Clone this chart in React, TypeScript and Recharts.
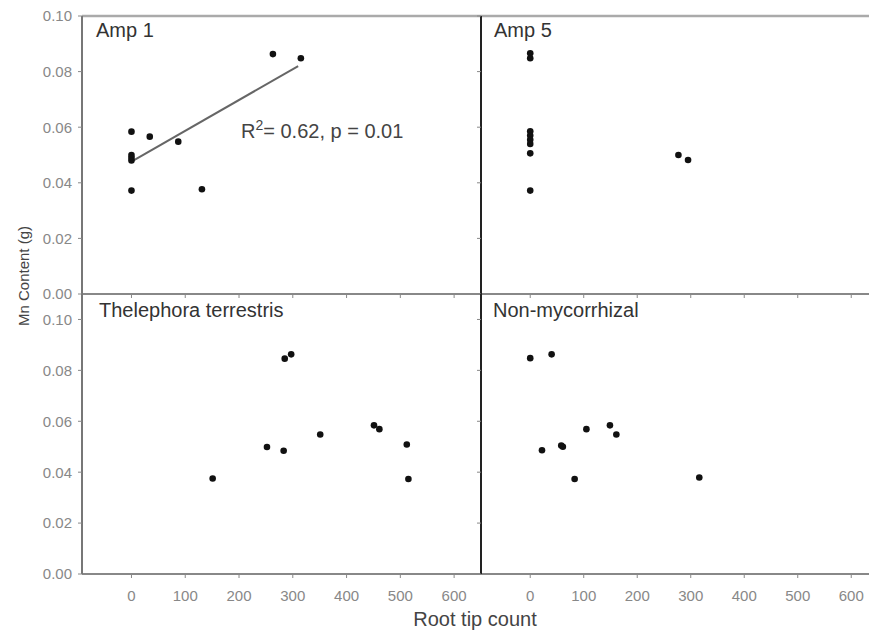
import React from 'react';
import { ScatterChart, Scatter, XAxis, YAxis, ReferenceLine } from 'recharts';

// values (root tip count vs Mn content in g)
const amp1Roots = [0, 34, 0, 0, 0, 87, 0, 131, 263, 315];
const amp1Mn = [0.0584, 0.0566, 0.05, 0.049, 0.048, 0.0548, 0.0372, 0.0377, 0.0863, 0.0848];
const amp1FitRoots = [0, 310];
const amp1FitMn = [0.0476, 0.082];

const amp5Roots = [0, 0, 0, 0, 0, 0, 0, 0, 277, 295];
const amp5Mn = [0.0866, 0.0848, 0.0585, 0.057, 0.0555, 0.054, 0.0506, 0.0372, 0.05, 0.0482];

const theleRoots = [151, 252, 283, 285, 297, 351, 451, 461, 512, 515];
const theleMn = [0.0375, 0.0499, 0.0484, 0.0846, 0.0863, 0.0548, 0.0584, 0.0569, 0.0509, 0.0373];

const nonmycRoots = [0, 40, 22, 58, 61, 83, 105, 149, 161, 316];
const nonmycMn = [0.0848, 0.0863, 0.0486, 0.0505, 0.05, 0.0373, 0.0569, 0.0584, 0.0548, 0.0379];

const xTicks = [0, 100, 200, 300, 400, 500, 600];
const yTicks = [0, 0.02, 0.04, 0.06, 0.08, 0.1];

const toPoints = (xs: number[], ys: number[]) => xs.map((x, i) => ({ x, y: ys[i] }));

const W = 869;
const H = 635;
const CHART_W = 880;
const LEFT = 82;
const MID = 481;
const RIGHT = 878;
const TOP = 16;
const SPLIT = 294;
const BOTTOM = 574;
const Y_AXIS_W = 60;
const X_AXIS_H = 40;
const X_DOMAIN: [number, number] = [-92, 650];
const FONT = '"Liberation Sans", Arial, sans-serif';

const Dot = (props: any) => <circle cx={props.cx} cy={props.cy} r={3.3} fill="#111" />;
const NoDot = () => <g />;

interface PanelProps {
  left: number;
  right: number;
  top: number;
  bottom: number;
  yDomain: [number, number];
  yLabels: boolean;
  xLabels: boolean;
  yAxisColor: string;
  topBorder: boolean;
  points: { x: number; y: number }[];
  fit?: { x: number; y: number }[];
}

function Panel({ left, right, top, bottom, yDomain, yLabels, xLabels, yAxisColor, topBorder, points, fit }: PanelProps) {
  return (
    <div style={{ position: 'absolute', left: 0, top: 0 }}>
      <ScatterChart
        width={CHART_W}
        height={H}
        margin={{ left: left - Y_AXIS_W, right: CHART_W - right, top, bottom: H - bottom - X_AXIS_H }}
      >
        <XAxis
          type="number"
          dataKey="x"
          domain={X_DOMAIN}
          ticks={xTicks}
          interval={0}
          height={X_AXIS_H}
          allowDataOverflow
          tickSize={4}
          tickMargin={12}
          axisLine={{ stroke: '#888', strokeWidth: 2 }}
          tickLine={{ stroke: '#888' }}
          tick={{ fill: '#888', fontSize: 15, fontFamily: FONT }}
          tickFormatter={(v) => (xLabels ? String(v) : '')}
        />
        <YAxis
          type="number"
          dataKey="y"
          domain={yDomain}
          ticks={yTicks}
          interval={0}
          width={Y_AXIS_W}
          allowDataOverflow
          tickSize={4}
          tickMargin={6}
          axisLine={{ stroke: yAxisColor, strokeWidth: 2 }}
          tickLine={{ stroke: '#888' }}
          tick={{ fill: '#888', fontSize: 15, fontFamily: FONT }}
          tickFormatter={(v) => (yLabels ? Number(v).toFixed(2) : '')}
        />
        {topBorder && <ReferenceLine y={yDomain[1]} stroke="#aaa" strokeWidth={2.5} />}
        {fit && (
          <Scatter
            data={fit}
            line={{ stroke: '#666', strokeWidth: 2 }}
            shape={NoDot}
            isAnimationActive={false}
          />
        )}
        <Scatter data={points} shape={Dot} isAnimationActive={false} />
      </ScatterChart>
    </div>
  );
}

export default function App() {
  return (
    <div
      style={{
        position: 'absolute',
        left: 0,
        top: 0,
        width: W,
        height: H,
        overflow: 'hidden',
        background: '#fff',
        fontFamily: FONT,
      }}
    >
      <Panel left={LEFT} right={MID} top={TOP} bottom={SPLIT} yDomain={[0, 0.1]} yLabels xLabels={false}
        yAxisColor="#777" topBorder points={toPoints(amp1Roots, amp1Mn)} fit={toPoints(amp1FitRoots, amp1FitMn)} />
      <Panel left={MID} right={RIGHT} top={TOP} bottom={SPLIT} yDomain={[0, 0.1]} yLabels={false} xLabels={false}
        yAxisColor="#222" topBorder points={toPoints(amp5Roots, amp5Mn)} />
      <Panel left={LEFT} right={MID} top={SPLIT} bottom={BOTTOM} yDomain={[0, 0.11]} yLabels xLabels
        yAxisColor="#777" topBorder={false} points={toPoints(theleRoots, theleMn)} />
      <Panel left={MID} right={RIGHT} top={SPLIT} bottom={BOTTOM} yDomain={[0, 0.11]} yLabels={false} xLabels
        yAxisColor="#222" topBorder={false} points={toPoints(nonmycRoots, nonmycMn)} />

      <svg width={W} height={H} style={{ position: 'absolute', left: 0, top: 0, pointerEvents: 'none' }}>
        <g fontFamily={FONT} fill="#333" fontSize={20}>
          <text x={96} y={37}>Amp 1</text>
          <text x={494} y={37}>Amp 5</text>
          <text x={99} y={317}>Thelephora terrestris</text>
          <text x={493} y={317}>Non-mycorrhizal</text>
          <text x={241} y={138} fill="#444">
            R<tspan fontSize={14} dy={-8}>2</tspan>
            <tspan dy={8}>= 0.62, p = 0.01</tspan>
          </text>
          <text x={475} y={626} textAnchor="middle" fill="#444">Root tip count</text>
          <text x={29} y={276} textAnchor="middle" fontSize={15} fill="#444" transform="rotate(-90 29 276)">
            Mn Content (g)
          </text>
        </g>
      </svg>
    </div>
  );
}
